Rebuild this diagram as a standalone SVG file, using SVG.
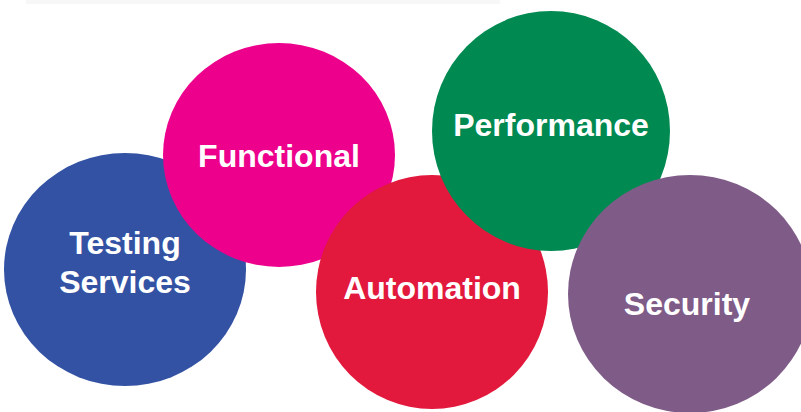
<svg xmlns="http://www.w3.org/2000/svg" width="801" height="412" viewBox="0 0 801 412">
<style>
text{font-family:"Liberation Sans",Arial,sans-serif;font-weight:bold;font-size:32px;fill:#fff;text-anchor:middle}
</style>
<rect width="801" height="412" fill="#fff"/>
<rect x="26" y="0" width="474" height="4" fill="#f7f7f7"/>
<g id="testing"><ellipse cx="125" cy="269.5" rx="121" ry="116.5" fill="#3352A3"/><text x="125" y="254">Testing</text><text x="125" y="293">Services</text></g>
<g id="functional"><ellipse cx="279" cy="155" rx="116" ry="112" fill="#EC008C"/><text x="279" y="167">Functional</text></g>
<g id="automation"><ellipse cx="432" cy="292" rx="116" ry="117" fill="#E2193D"/><text x="432" y="299">Automation</text></g>
<g id="performance"><ellipse cx="551" cy="131" rx="119" ry="120" fill="#008A52"/><text x="551" y="136">Performance</text></g>
<g id="security"><ellipse cx="690" cy="294" rx="122" ry="119" fill="#7F5B88"/><text x="687" y="315">Security</text></g>
<g id="connectors"/>
</svg>
